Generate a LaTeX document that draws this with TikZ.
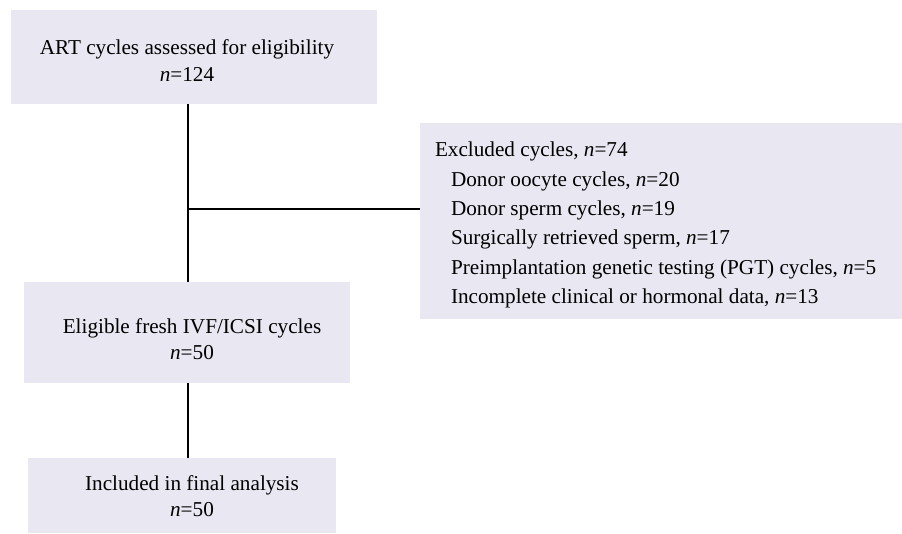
\documentclass[tikz,border=0pt]{standalone}
\usepackage{fontspec}
\setmainfont{Liberation Serif}
\usepackage{tikz}
\usetikzlibrary{positioning}
\definecolor{boxfill}{RGB}{232,231,242}

\tikzset{
  flowbox/.style={fill=boxfill,inner sep=0pt},
  boxtext/.style={inner sep=0pt,align=center,font=\fontsize{21.2}{26.5}\selectfont},
  link/.style={line width=1.5pt}
}

\begin{document}
\begin{tikzpicture}[x=1pt,y=-1pt,line join=round]
  \useasboundingbox (0,0) rectangle (902,534);
  % boxes
  \node[flowbox,minimum width=366pt,minimum height=94pt] (art) at (194,57) {};
  \node[flowbox,minimum width=326pt,minimum height=101pt] (elig) at (187,332.5) {};
  \node[flowbox,minimum width=308pt,minimum height=75pt] (incl) at (182,495.5) {};
  \node[flowbox,minimum width=482pt,minimum height=196pt] (excl) at (661,221) {};
  % texts
  \node[boxtext] (art-txt) at ([shift={(-7,3.5)}]art.center) {ART cycles assessed for eligibility\\\textit{n}=124};
  \node[boxtext] (elig-txt) at ([shift={(5,6.5)}]elig.center) {Eligible fresh IVF/ICSI cycles\\\textit{n}=50};
  \node[boxtext] (incl-txt) at ([shift={(10,0.5)}]incl.center) {Included in final analysis\\\textit{n}=50};
  \node[boxtext,align=left,anchor=west,font=\fontsize{21.2}{29.3}\selectfont]
      (excl-txt) at ([shift={(15,4)}]excl.west) {%
    Excluded cycles, \textit{n}=74\\
    \hspace{16pt}Donor oocyte cycles, \textit{n}=20\\
    \hspace{16pt}Donor sperm cycles, \textit{n}=19\\
    \hspace{16pt}Surgically retrieved sperm, \textit{n}=17\\
    \hspace{16pt}Preimplantation genetic testing (PGT) cycles, \textit{n}=5\\
    \hspace{16pt}Incomplete clinical or hormonal data, \textit{n}=13};
  % connectors
  \coordinate (trunk) at (188,209);
  \draw[link] (art.south -| trunk) -- (elig.north -| trunk);
  \draw[link] (trunk) -- (trunk -| excl.west);
  \draw[link] (elig.south -| trunk) -- (incl.north -| trunk);
\end{tikzpicture}
\end{document}
